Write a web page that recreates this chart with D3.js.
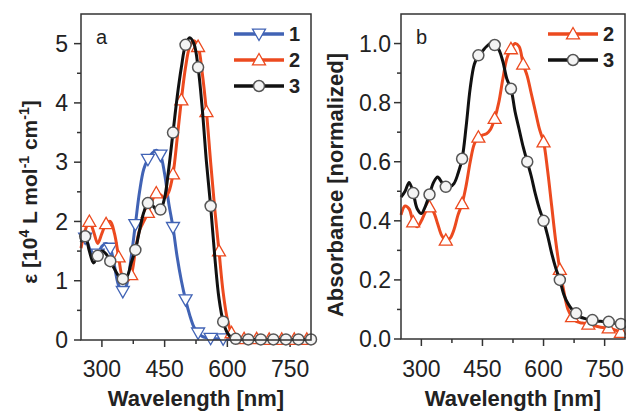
<!DOCTYPE html>
<html>
<head>
<meta charset="utf-8">
<script src="https://cdn.jsdelivr.net/npm/d3@7"></script>
<style>
  body { margin: 0; background: #fff; }
  svg { font-family: "Liberation Sans", Arial, sans-serif; }
</style>
</head>
<body>
<div id="chart"></div>
<script>
// wavelength grid [nm]
const waveA = [250,260,270,280,290,300,310,320,330,340,350,360,370,380,390,400,410,420,430,440,450,460,470,480,490,500,
  510,520,530,540,550,560,570,580,590,600,610,620,630,640,650,660,670,680,690,700,710,720,730,740,750,760,770,780,790,800];

// panel a: extinction coefficient [10^4 L mol-1 cm-1]
const epsA1 = [1.70,1.72,1.55,1.38,1.45,1.58,1.63,1.55,1.25,0.92,0.82,0.95,1.40,1.95,2.50,2.88,3.05,3.15,3.20,3.12,2.80,2.30,1.90,1.40,1.00,0.68,
  0.42,0.22,0.12,0.06,0.04,0.03,0.02,0.02,0.02,0.01,0.01,0.01,0.01,0.01,0.01,0.01,0.01,0.01,0.01,0.01,0.01,0.01,0.01,0.01,0.01,0.01,0.01,0.01,0.01,0.01];
const epsA2 = [1.55,1.85,2.00,1.83,1.63,1.80,1.96,2.00,1.80,1.40,1.05,1.00,1.10,1.50,1.85,2.00,2.15,2.35,2.48,2.45,2.40,2.50,2.80,3.40,4.05,4.60,
  4.95,5.05,4.95,4.50,3.85,3.00,2.20,1.50,0.80,0.35,0.12,0.05,0.03,0.02,0.02,0.02,0.02,0.01,0.01,0.01,0.01,0.01,0.01,0.01,0.01,0.01,0.01,0.01,0.01,0.01];
const epsA3 = [1.65,1.75,1.50,1.30,1.42,1.50,1.45,1.33,1.20,1.08,1.03,1.07,1.30,1.52,1.85,2.15,2.31,2.28,2.20,2.20,2.40,2.90,3.50,4.10,4.60,4.98,
  5.10,5.00,4.60,3.90,3.00,2.26,1.40,0.70,0.31,0.12,0.04,0.02,0.01,0.01,0.01,0.01,0.01,0.01,0.01,0.01,0.01,0.01,0.01,0.01,0.01,0.01,0.01,0.01,0.01,0.01];

// panel b: normalized absorbance
const absB2 = [0.42,0.45,0.44,0.396,0.38,0.40,0.43,0.447,0.43,0.39,0.35,0.334,0.34,0.37,0.42,0.458,0.52,0.60,0.66,0.683,0.69,0.695,0.71,0.746,0.80,0.88,
  0.95,0.982,1.00,0.99,0.93,0.89,0.83,0.77,0.71,0.667,0.57,0.45,0.33,0.235,0.16,0.10,0.075,0.06,0.055,0.053,0.05,0.047,0.043,0.04,0.038,0.037,0.033,0.028,0.022,0.02];
const absB3 = [0.48,0.50,0.53,0.494,0.44,0.425,0.45,0.489,0.53,0.548,0.53,0.515,0.515,0.526,0.56,0.61,0.72,0.85,0.93,0.96,0.975,0.99,1.00,0.995,0.98,0.94,
  0.88,0.847,0.77,0.71,0.65,0.60,0.55,0.49,0.44,0.40,0.35,0.29,0.24,0.20,0.15,0.12,0.10,0.087,0.075,0.07,0.066,0.064,0.061,0.06,0.059,0.058,0.055,0.053,0.051,0.05];

// marker wavelengths
const markA1 = [260,290,320,350,380,410,440,470,500,530,560,590];
const markA2 = [270,310,340,370,410,430,470,490,530,550,580,610,640,670,700,730,760,790];
const markA3 = [260,290,320,350,380,410,440,470,500,530,560,590,620,650,680,710,740,770,800];
const markB2 = [280,320,360,400,440,480,520,550,600,640,670,710,760,790];
const markB3 = [280,320,360,400,440,480,520,560,600,640,680,720,760,790];

const xTicks = [300,450,600,750];
const xMinor = [375,525,675];

const blue = "#4163b5", red = "#ec4a1f", black = "#111";

const svg = d3.select("#chart").append("svg")
  .attr("width", 626).attr("height", 411);

function marker(g, type, color, x, y) {
  if (type === "circle") {
    g.append("circle").attr("cx", x).attr("cy", y).attr("r", 5.5)
      .attr("fill", "#f4f4f4").attr("stroke", "#555").attr("stroke-width", 1.5);
  } else {
    const s = 6.5, dir = type === "up" ? 1 : -1;
    const pts = [[x, y - dir * s], [x - s, y + dir * s * 0.75], [x + s, y + dir * s * 0.75]];
    g.append("path").attr("d", "M" + pts.join("L") + "Z")
      .attr("fill", "#fff").attr("stroke", color).attr("stroke-width", 1.3);
  }
}

function panel(opt) {
  const x = d3.scaleLinear().domain([250, 800]).range([opt.left, opt.right]);
  const y = d3.scaleLinear().domain(opt.yDomain).range([opt.bottom, opt.top]);
  const g = svg.append("g");

  // y ticks
  g.selectAll(".ymin").data(opt.yMinor).join("line")
    .attr("x1", opt.left - 4).attr("x2", opt.left).attr("y1", d => y(d)).attr("y2", d => y(d))
    .attr("stroke", "#333").attr("stroke-width", 1.5);
  g.selectAll(".ymaj").data(opt.yTicks).join("line")
    .attr("x1", opt.left - 7).attr("x2", opt.left).attr("y1", d => y(d)).attr("y2", d => y(d))
    .attr("stroke", "#333").attr("stroke-width", 1.5);
  g.selectAll(".ylab").data(opt.yTicks).join("text")
    .attr("x", opt.left - opt.yLabGap).attr("y", d => y(d)).attr("dy", "0.36em")
    .attr("text-anchor", "end").attr("font-size", 23).attr("fill", "#222")
    .text(opt.yFormat);

  // x ticks
  g.selectAll(".xmin").data(xMinor).join("line")
    .attr("x1", d => x(d)).attr("x2", d => x(d)).attr("y1", opt.bottom).attr("y2", opt.bottom + 4)
    .attr("stroke", "#333").attr("stroke-width", 1.5);
  g.selectAll(".xmaj").data(xTicks).join("line")
    .attr("x1", d => x(d)).attr("x2", d => x(d)).attr("y1", opt.bottom).attr("y2", opt.bottom + 7)
    .attr("stroke", "#333").attr("stroke-width", 1.5);
  g.selectAll(".xlab").data(xTicks).join("text")
    .attr("x", d => x(d)).attr("y", 377)
    .attr("text-anchor", "middle").attr("font-size", 23).attr("fill", "#222")
    .text(d => d);

  // series
  const line = d3.line().x(d => x(d[0])).y(d => y(d[1])).curve(d3.curveCatmullRom.alpha(0.5));
  opt.series.forEach(s => {
    const pts = waveA.map((w, i) => [w, s.values[i]]);
    g.append("path").datum(pts).attr("fill", "none")
      .attr("stroke", s.color).attr("stroke-width", 3).attr("d", line);
    s.marks.forEach(w => {
      const i = waveA.indexOf(w);
      marker(g, s.type, s.color, x(w), y(s.values[i]));
    });
  });

  // frame
  g.append("rect").attr("x", opt.left).attr("y", opt.top)
    .attr("width", opt.right - opt.left).attr("height", opt.bottom - opt.top)
    .attr("fill", "none").attr("stroke", "#333").attr("stroke-width", 1.5);

  // panel letter
  g.append("text").attr("x", opt.left + 15).attr("y", 44)
    .attr("font-size", 20).attr("fill", "#222").text(opt.letter);

  // legend
  opt.series.forEach((s, i) => {
    const ly = opt.legendY[i];
    g.append("line").attr("x1", opt.legendX).attr("x2", opt.legendX + 50)
      .attr("y1", ly).attr("y2", ly).attr("stroke", s.color).attr("stroke-width", 3.5);
    marker(g, s.type, s.color, opt.legendX + 25, ly);
    g.append("text").attr("x", opt.legendX + 55).attr("y", ly).attr("dy", "0.36em")
      .attr("font-size", 20).attr("font-weight", "bold").attr("fill", "#222").text(s.name);
  });

  // axis titles
  g.append("text").attr("x", (opt.left + opt.right) / 2).attr("y", 406)
    .attr("text-anchor", "middle").attr("font-size", 22).attr("font-weight", "bold")
    .attr("fill", "#222").text("Wavelength [nm]");
  const yt = g.append("text")
    .attr("transform", `translate(${opt.yTitleX},${opt.yTitleY}) rotate(-90)`)
    .attr("text-anchor", "middle").attr("font-size", opt.yTitleSize).attr("font-weight", "bold").attr("fill", "#222");
  opt.yTitle(yt);
}

panel({
  left: 81, right: 311, top: 14, bottom: 340,
  yDomain: [0, 5.5], yTicks: [0,1,2,3,4,5], yMinor: [0.5,1.5,2.5,3.5,4.5],
  yFormat: d => d, yLabGap: 13, letter: "a",
  legendX: 234, legendY: [34, 60, 86],
  yTitleX: 37, yTitleY: 192, yTitleSize: 21,
  yTitle: t => {
    t.append("tspan").text("ε [10");
    t.append("tspan").attr("font-size", 14).attr("dy", -8).text("4");
    t.append("tspan").attr("dy", 8).text(" L mol");
    t.append("tspan").attr("font-size", 14).attr("dy", -8).text("-1");
    t.append("tspan").attr("dy", 8).text(" cm");
    t.append("tspan").attr("font-size", 14).attr("dy", -8).text("-1");
    t.append("tspan").attr("dy", 8).text("]");
  },
  series: [
    {name: "1", values: epsA1, marks: markA1, color: blue, type: "down"},
    {name: "2", values: epsA2, marks: markA2, color: red, type: "up"},
    {name: "3", values: epsA3, marks: markA3, color: black, type: "circle"}
  ]
});

panel({
  left: 401, right: 625, top: 14, bottom: 339,
  yDomain: [0, 1.1], yTicks: [0,0.2,0.4,0.6,0.8,1.0], yMinor: [0.1,0.3,0.5,0.7,0.9],
  yFormat: d3.format(".1f"), yLabGap: 10, letter: "b",
  legendX: 548, legendY: [34, 60],
  yTitleX: 343, yTitleY: 185, yTitleSize: 22,
  yTitle: t => t.text("Absorbance [normalized]"),
  series: [
    {name: "2", values: absB2, marks: markB2, color: red, type: "up"},
    {name: "3", values: absB3, marks: markB3, color: black, type: "circle"}
  ]
});
</script>
</body>
</html>
